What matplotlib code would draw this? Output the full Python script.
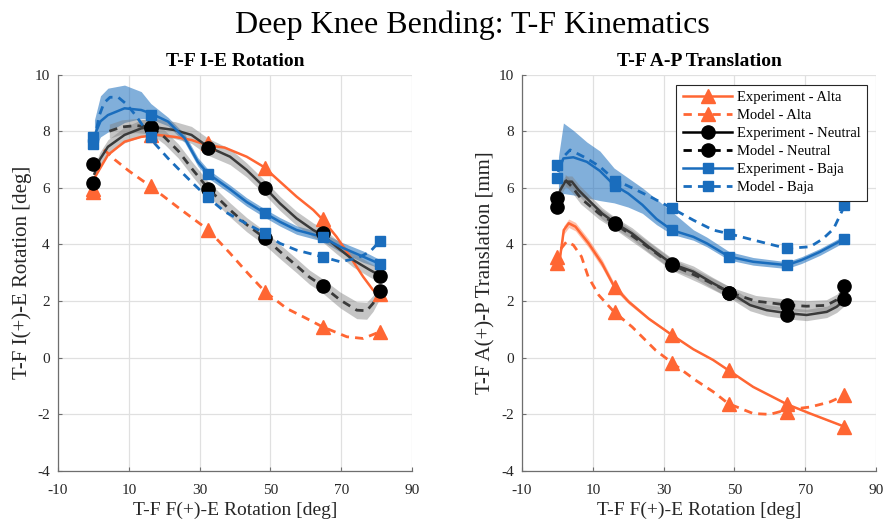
import matplotlib
matplotlib.use("Agg")
import matplotlib.pyplot as plt
from matplotlib.lines import Line2D
import numpy as np

plt.rcParams['font.family'] = ['Liberation Serif', 'DejaVu Serif']
plt.rcParams['axes.unicode_minus'] = False

# ---------------- data ----------------
mk_x = [0, 16.2, 32.4, 48.6, 64.8, 81]

# Left panel: T-F I-E rotation [deg]
L_exp_alta_mk = [5.95, 7.85, 7.6, 6.7, 4.9, 2.25]
L_mod_alta_mk = [5.85, 6.05, 4.52, 2.33, 1.1, 0.92]
L_exp_neu_mk = [6.83, 8.16, 7.4, 5.98, 4.39, 2.89]
L_mod_neu_mk = [6.16, 8.1, 5.97, 4.22, 2.53, 2.37]
L_exp_baja_mk = [7.81, 8.57, 6.49, 5.1, 4.27, 3.31]
L_mod_baja_mk = [7.55, 7.81, 5.66, 4.39, 3.57, 4.13]

L_exp_alta_x = [0.3, 4.1, 8.8, 13.5, 18.2, 23, 27.7, 32.4, 37.1, 43.3, 48, 52.7, 57.4, 62.1, 64.6, 68.7, 72.5, 76.2, 79, 81]
L_exp_alta_y = [6.35, 7.16, 7.63, 7.8, 7.87, 7.8, 7.69, 7.5, 7.42, 7.1, 6.75, 6.22, 5.69, 5.22, 4.9, 4.27, 3.57, 2.86, 2.39, 2.2]

L_mod_alta_x = [3, 6, 10, 16.2, 24, 32.4, 38.6, 43.5, 48.5, 54.6, 60, 64.6, 71.6, 76.2, 81]
L_mod_alta_y = [7.35, 7.0, 6.6, 6.05, 5.3, 4.52, 3.69, 3.0, 2.33, 1.74, 1.4, 1.1, 0.74, 0.68, 0.92]

L_exp_neu_x = [0.3, 1.8, 4.1, 8.8, 13.5, 16.2, 23, 27.7, 32.4, 38.6, 43.3, 48.5, 52.7, 57.4, 62.1, 64.6, 68.7, 73.4, 78.1, 81]
L_exp_neu_y = [6.5, 7.0, 7.45, 7.87, 8.1, 8.16, 8.04, 7.87, 7.45, 7.1, 6.63, 6.0, 5.45, 4.92, 4.51, 4.35, 3.92, 3.45, 3.1, 2.9]
L_exp_neu_hw = [0.25, 0.25, 0.25, 0.28, 0.3, 0.3, 0.3, 0.3, 0.3, 0.28, 0.25, 0.25, 0.25, 0.25, 0.25, 0.25, 0.25, 0.25, 0.25, 0.25]

L_mod_neu_x = [4.5, 8, 12, 16.2, 20, 24, 28, 32.4, 38.6, 43.3, 48.5, 52.7, 57.4, 61, 64.6, 69.7, 74.4, 77.2, 79, 81]
L_mod_neu_y = [8.0, 8.15, 8.2, 8.15, 7.8, 7.3, 6.65, 5.98, 5.22, 4.7, 4.22, 3.75, 3.25, 2.85, 2.55, 2.04, 1.68, 1.66, 1.92, 2.36]
L_mod_neu_hw = [0.25, 0.25, 0.25, 0.25, 0.25, 0.25, 0.25, 0.25, 0.25, 0.25, 0.25, 0.25, 0.25, 0.25, 0.25, 0.28, 0.3, 0.3, 0.28, 0.25]

L_exp_baja_x = [0.3, 2, 4.1, 8.8, 13.5, 16.2, 21.1, 25.8, 29.5, 32.4, 38.6, 43.3, 48.5, 52.7, 57.4, 64.6, 69.7, 76.2, 81]
L_exp_baja_y = [7.85, 8.35, 8.57, 8.81, 8.75, 8.63, 8.34, 7.75, 6.92, 6.5, 5.95, 5.5, 5.1, 4.8, 4.51, 4.27, 3.92, 3.57, 3.31]
L_exp_baja_up = [0.55, 0.9, 0.95, 0.82, 0.65, 0.35, 0.15, 0.15, 0.15, 0.15, 0.15, 0.15, 0.15, 0.15, 0.15, 0.15, 0.18, 0.2, 0.15]
L_exp_baja_lo = [0.45, 0.55, 0.6, 0.5, 0.3, 0.2, 0.15, 0.15, 0.15, 0.15, 0.15, 0.15, 0.15, 0.15, 0.15, 0.15, 0.18, 0.2, 0.15]

L_mod_baja_x = [0.3, 1.5, 3, 4.7, 7, 9.4, 12, 14.5, 16.2, 17.3, 21.1, 24.8, 28.6, 32.4, 37.1, 43, 48.5, 52.7, 57.4, 64.6, 69.7, 74.4, 78.1, 81]
L_mod_baja_y = [7.6, 8.5, 9.0, 9.2, 9.2, 8.95, 8.55, 8.1, 7.85, 7.57, 7.04, 6.57, 6.1, 5.65, 5.16, 4.75, 4.39, 4.04, 3.8, 3.57, 3.39, 3.51, 3.74, 4.13]

# Right panel: T-F A-P translation [mm]
R_exp_alta_mk = [3.57, 2.5, 0.8, -0.44, -1.64, -2.44]
R_mod_alta_mk = [3.33, 1.62, -0.18, -1.62, -1.91, -1.32]
R_exp_neu_mk = [5.63, 4.75, 3.31, 2.27, 1.51, 2.07]
R_mod_neu_mk = [5.33, 4.72, 3.28, 2.3, 1.86, 2.53]
R_exp_baja_mk = [6.34, 6.06, 4.51, 3.57, 3.27, 4.21]
R_mod_baja_mk = [6.81, 6.25, 5.28, 4.37, 3.86, 5.39]

R_exp_alta_x = [0.8, 1.3, 1.8, 3.2, 5.1, 8.8, 12.6, 15.9, 20.1, 25.8, 32.4, 38.4, 44, 48.3, 55.3, 64.8, 71.4, 81.2]
R_exp_alta_y = [3.6, 4.04, 4.51, 4.75, 4.63, 4.04, 3.33, 2.55, 1.98, 1.38, 0.8, 0.3, -0.08, -0.44, -1.03, -1.64, -1.97, -2.44]
R_exp_alta_hw = [0.12, 0.15, 0.15, 0.15, 0.15, 0.15, 0.15, 0.12, 0.08, 0.05, 0.03, 0.02, 0.02, 0.02, 0.02, 0.02, 0.02, 0.02]

R_mod_alta_x = [1.0, 2.6, 4.5, 6.8, 8.7, 11.7, 16, 21.1, 27.7, 32.4, 39, 44, 48.3, 55.3, 60, 64.8, 71.4, 77, 81.2]
R_mod_alta_y = [3.85, 4.1, 3.98, 3.57, 2.86, 2.21, 1.62, 1.09, 0.27, -0.18, -0.79, -1.2, -1.62, -1.97, -2.0, -1.84, -1.74, -1.56, -1.32]

R_exp_neu_x = [0.3, 0.8, 2.2, 4.1, 6, 8.8, 12.6, 16.4, 21.1, 25.8, 32.4, 38.4, 44, 48.8, 54.4, 59.1, 65.2, 70.4, 76.1, 78.9, 81.4]
R_exp_neu_y = [5.7, 5.92, 6.22, 6.22, 5.92, 5.57, 5.1, 4.75, 4.39, 3.92, 3.31, 3.04, 2.63, 2.3, 1.86, 1.68, 1.57, 1.51, 1.62, 1.8, 2.07]

R_mod_neu_x = [2.2, 4.1, 6.6, 11.7, 16.4, 24, 32.4, 40, 48.8, 56, 65.2, 70.4, 76, 79, 81.4]
R_mod_neu_y = [6.28, 6.04, 5.63, 5.1, 4.72, 4.05, 3.28, 2.85, 2.3, 2.0, 1.86, 1.82, 1.85, 2.05, 2.53]

R_exp_baja_x = [0.3, 1.7, 4.5, 8.3, 12, 16, 20, 24, 28, 32.3, 38.4, 42.2, 48.5, 55.3, 64.8, 69, 74.2, 81.2]
R_exp_baja_y = [6.6, 7.04, 7.08, 6.92, 6.6, 6.1, 5.8, 5.4, 4.9, 4.51, 4.27, 4.04, 3.57, 3.39, 3.27, 3.45, 3.74, 4.21]
R_exp_baja_up = [0.5, 1.25, 0.95, 0.7, 0.7, 0.6, 0.55, 0.6, 0.7, 0.65, 0.25, 0.22, 0.18, 0.15, 0.12, 0.12, 0.12, 0.12]
R_exp_baja_lo = [0.9, 1.24, 1.33, 1.27, 1.05, 0.63, 0.48, 0.3, 0.2, 0.15, 0.12, 0.12, 0.12, 0.12, 0.12, 0.12, 0.12, 0.12]

R_mod_baja_x = [2.2, 3.6, 8.3, 12, 16, 21.4, 27.1, 32.3, 38.4, 44, 48.8, 55.3, 64.8, 71.4, 75, 78, 81.2]
R_mod_baja_y = [7.16, 7.34, 7.04, 6.75, 6.3, 5.98, 5.63, 5.28, 4.86, 4.51, 4.37, 4.16, 3.86, 3.92, 4.2, 4.55, 5.39]

legend_labels = ['Experiment - Alta', 'Model - Alta', 'Experiment - Neutral',
                 'Model - Neutral', 'Experiment - Baja', 'Model - Baja']
x_ticks = [-10, 10, 30, 50, 70, 90]
y_ticks = [-4, -2, 0, 2, 4, 6, 8, 10]

# ---------------- style ----------------
ORANGE = '#ff6633'
BLUE = '#1a6dbd'
DARK = '#3a3a3a'
DASH = (3.0, 2.2)

fig = plt.figure(figsize=(8.88, 5.25), dpi=100)
ax1 = fig.add_axes([58 / 888, 54 / 525, 354 / 888, 396.4 / 525])
ax2 = fig.add_axes([522 / 888, 54 / 525, 354 / 888, 396.4 / 525])


def band(ax, x, y, lo, hi, color, alpha):
    x = np.asarray(x); y = np.asarray(y)
    ax.fill_between(x, y - np.asarray(lo), y + np.asarray(hi), color=color,
                    alpha=alpha, lw=0, zorder=1)


def curve(ax, x, y, color, dashed=False, lw=1.8):
    if dashed:
        ax.plot(x, y, color=color, lw=2.0, dashes=DASH, zorder=3,
                solid_capstyle='butt', dash_capstyle='butt')
    else:
        ax.plot(x, y, color=color, lw=lw, zorder=3)


def marks(ax, y, color, marker, ms):
    ax.plot(mk_x, y, ls='none', marker=marker, ms=ms, color=color,
            markeredgecolor=color, zorder=4)


# ---- left panel ----
band(ax1, L_exp_baja_x, L_exp_baja_y, L_exp_baja_lo, L_exp_baja_up, BLUE, 0.55)
band(ax1, L_exp_neu_x, L_exp_neu_y, L_exp_neu_hw, L_exp_neu_hw, '#7f7f7f', 0.45)
band(ax1, L_mod_neu_x, L_mod_neu_y, L_mod_neu_hw, L_mod_neu_hw, '#7f7f7f', 0.45)

curve(ax1, L_exp_alta_x, L_exp_alta_y, ORANGE)
curve(ax1, L_mod_alta_x, L_mod_alta_y, ORANGE, dashed=True)
curve(ax1, L_exp_neu_x, L_exp_neu_y, DARK)
curve(ax1, L_mod_neu_x, L_mod_neu_y, DARK, dashed=True)
curve(ax1, L_exp_baja_x, L_exp_baja_y, BLUE)
curve(ax1, L_mod_baja_x, L_mod_baja_y, BLUE, dashed=True)

marks(ax1, L_exp_alta_mk, ORANGE, '^', 10)
marks(ax1, L_mod_alta_mk, ORANGE, '^', 10)
marks(ax1, L_exp_neu_mk, 'black', 'o', 9.5)
marks(ax1, L_mod_neu_mk, 'black', 'o', 9.5)
marks(ax1, L_exp_baja_mk, BLUE, 's', 7)
marks(ax1, L_mod_baja_mk, BLUE, 's', 7)

# ---- right panel ----
band(ax2, R_exp_baja_x, R_exp_baja_y, R_exp_baja_lo, R_exp_baja_up, BLUE, 0.55)
band(ax2, R_exp_neu_x, R_exp_neu_y, [0.2] * len(R_exp_neu_x), [0.2] * len(R_exp_neu_x), '#7f7f7f', 0.45)
band(ax2, R_mod_neu_x, R_mod_neu_y, [0.2] * len(R_mod_neu_x), [0.2] * len(R_mod_neu_x), '#7f7f7f', 0.45)
band(ax2, R_exp_alta_x, R_exp_alta_y, R_exp_alta_hw, R_exp_alta_hw, ORANGE, 0.4)

curve(ax2, R_exp_alta_x, R_exp_alta_y, ORANGE)
curve(ax2, R_mod_alta_x, R_mod_alta_y, ORANGE, dashed=True)
curve(ax2, R_exp_neu_x, R_exp_neu_y, DARK)
curve(ax2, R_mod_neu_x, R_mod_neu_y, DARK, dashed=True)
curve(ax2, R_exp_baja_x, R_exp_baja_y, BLUE)
curve(ax2, R_mod_baja_x, R_mod_baja_y, BLUE, dashed=True)

marks(ax2, R_exp_alta_mk, ORANGE, '^', 10)
marks(ax2, R_mod_alta_mk, ORANGE, '^', 10)
marks(ax2, R_exp_neu_mk, 'black', 'o', 9.5)
marks(ax2, R_mod_neu_mk, 'black', 'o', 9.5)
marks(ax2, R_exp_baja_mk, BLUE, 's', 7)
marks(ax2, R_mod_baja_mk, BLUE, 's', 7)

for ax, title, ylab in [(ax1, 'T-F I-E Rotation', 'T-F I(+)-E Rotation [deg]'),
                        (ax2, 'T-F A-P Translation', 'T-F A(+)-P Translation [mm]')]:
    ax.set_xlim(-10, 90)
    ax.set_ylim(-4, 10)
    ax.set_xticks(x_ticks)
    ax.set_yticks(y_ticks)
    ax.grid(True, color='#e0e0e0', lw=0.9, zorder=0)
    ax.set_axisbelow(True)
    for s in ['top', 'right']:
        ax.spines[s].set_visible(False)
    for s in ['left', 'bottom']:
        ax.spines[s].set_color('#6e6e6e')
        ax.spines[s].set_linewidth(0.9)
    ax.tick_params(direction='in', length=3, color='#6e6e6e', labelsize=11,
                   labelcolor='#262626')
    ax.tick_params(axis='x', pad=9)
    ax.tick_params(axis='y', pad=6)
    ax.set_title(title, fontsize=14, fontweight='bold', pad=6)
    ax.set_xlabel('T-F F(+)-E Rotation [deg]', fontsize=14, color='#262626', labelpad=4)
    ax.set_ylabel(ylab, fontsize=15, color='#262626', labelpad=2)

handles = [
    Line2D([], [], color=ORANGE, lw=1.8, marker='^', ms=10),
    Line2D([], [], color=ORANGE, lw=2.0, dashes=DASH, marker='^', ms=10),
    Line2D([], [], color='black', lw=1.8, marker='o', ms=9.5),
    Line2D([], [], color='black', lw=2.0, dashes=DASH, marker='o', ms=9.5),
    Line2D([], [], color=BLUE, lw=1.8, marker='s', ms=7),
    Line2D([], [], color=BLUE, lw=2.0, dashes=DASH, marker='s', ms=7),
]
leg = ax2.legend(handles, legend_labels, loc='upper right', bbox_to_anchor=(0.975, 0.975),
                 borderaxespad=0, fontsize=10.5, frameon=True, fancybox=False,
                 edgecolor='#262626', framealpha=1, handlelength=3.4,
                 handletextpad=0.3, labelspacing=0.33, borderpad=0.45)
leg.get_frame().set_linewidth(0.8)

fig.text(0.532, 0.951, 'Deep Knee Bending: T-F Kinematics', ha='center', va='center',
         fontsize=23, color='black')

fig.savefig('out.png', dpi=100)
